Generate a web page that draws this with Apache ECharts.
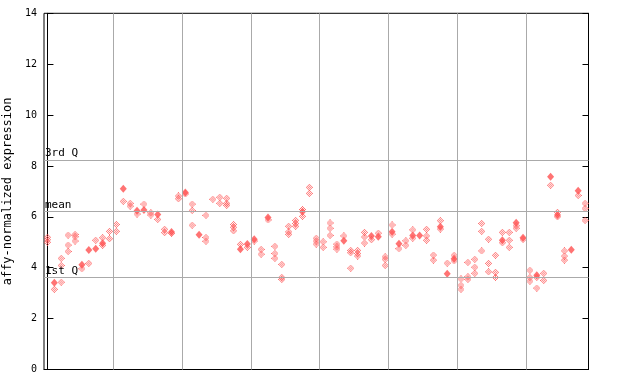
<!DOCTYPE html>
<html>
<head>
<meta charset="utf-8">
<script src="https://cdn.jsdelivr.net/npm/echarts@6/dist/echarts.min.js"></script>
<style>html,body{margin:0;padding:0;background:#fff}#c{width:640px;height:384px}</style>
</head>
<body>
<div id="c"></div>
<script>
// ---- data ----
const groupSizes = [10, 10, 10, 10, 10, 10, 10, 9];
const yTicks = [0, 2, 4, 6, 8, 10, 12, 14];
const yTitle = 'affy-normalized expression';
const statNames = ['3rd Q', 'mean', '1st Q'];
const statValues = [8.23, 6.22, 3.62];
// per sample column: hollow (dithered) diamonds
const hollowValues = [
  [5.2, 5.1, 5.0], [3.15], [4.37, 4.09, 3.43], [5.28, 4.89, 4.64], [5.31, 5.22, 5.05],
  [3.96], [4.17], [5.08], [5.18, 4.88], [5.43, 5.14],
  [5.7, 5.43], [6.61], [6.53, 6.42], [6.11], [6.5],
  [6.16, 6.07], [5.9], [5.51, 5.38], [5.35], [6.82, 6.71],
  [6.9], [6.5, 6.25, 5.67], [], [6.06, 5.19, 5.04], [6.69],
  [6.77, 6.53], [6.73, 6.53, 6.45], [5.7, 5.59, 5.45], [4.92], [4.8],
  [5.05], [4.72, 4.53], [5.88], [4.84, 4.56, 4.37], [4.13, 3.62, 3.54],
  [5.63, 5.41, 5.31], [5.86, 5.74, 5.63], [6.29, 6.02], [7.16, 6.92], [5.16, 5.05, 4.93],
  [5.02, 4.8], [5.76, 5.55, 5.27], [4.93, 4.82, 4.73], [5.25], [4.68, 4.59, 3.98],
  [4.68, 4.56, 4.46], [5.39, 5.21, 4.97], [5.1], [5.36], [4.43, 4.33, 4.09],
  [5.68, 5.32], [4.75], [5.06, 4.88], [5.49, 5.16], [],
  [5.51, 5.25, 5.08], [4.5, 4.3], [5.85, 5.52], [4.18], [4.49, 4.27],
  [3.56, 3.31, 3.15], [4.21, 3.65, 3.54], [4.33, 4.02, 3.78], [5.74, 5.43, 4.66], [5.12, 4.17, 3.84],
  [4.49, 3.82, 3.62], [5.39, 4.98], [5.39, 5.08, 4.8], [5.65, 5.55], [5.11],
  [3.9, 3.62, 3.47], [3.62, 3.2], [3.78, 3.5], [7.24], [6.18, 6.0],
  [4.66, 4.46, 4.3], [], [6.84], [6.53, 6.33, 5.86]
];
// per sample column: solid diamonds
const solidValues = [
  [], [3.41], [], [], [],
  [4.12], [4.7], [4.75], [4.96], [],
  [], [7.1], [], [6.24], [6.27],
  [], [6.09], [], [5.4], [],
  [6.96], [], [5.3], [], [],
  [], [], [], [4.73], [4.93],
  [5.12], [], [5.97], [], [],
  [], [], [6.2], [], [],
  [], [], [], [5.06], [],
  [], [], [5.25], [5.22], [],
  [5.41], [4.94], [], [5.27], [5.27],
  [], [], [5.61], [3.76], [4.35],
  [], [], [], [], [],
  [], [5.08], [], [5.77], [5.18],
  [], [3.7], [], [7.58], [6.07],
  [], [4.71], [7.03], []
];

// ---- build ----
const nCols = groupSizes.reduce((a, b) => a + b, 0);
const boundaries = [];
let acc = 0;
for (let i = 0; i < groupSizes.length - 1; i++) { acc += groupSizes[i]; boundaries.push(acc - 0.5); }

function toPoints(arr) {
  const out = [];
  arr.forEach((vals, i) => vals.forEach(v => out.push([i, v])));
  return out;
}

// dithered diamond symbol
function checkerDiamond() {
  const c = document.createElement('canvas');
  c.width = 7; c.height = 7;
  const g = c.getContext('2d');
  g.fillStyle = '#ff5050';
  for (let y = 0; y < 7; y++) for (let x = 0; x < 7; x++) {
    if (Math.abs(x - 3) + Math.abs(y - 3) <= 3 && (x + y) % 2 === 1) g.fillRect(x, y, 1, 1);
  }
  return 'image://' + c.toDataURL();
}

const mono = 'DejaVu Sans Mono';
const chart = echarts.init(document.getElementById('c'), null, { renderer: 'canvas' });
chart.setOption({
  animation: false,
  backgroundColor: '#fff',
  grid: { left: 44, right: 51.5, top: 13.3, bottom: 14.5, show: true, borderColor: '#000', borderWidth: 1,
    containLabel: false, outerBoundsMode: 'none' },
  xAxis: {
    type: 'value', min: -0.5, max: nCols - 0.5,
    axisLine: { show: true, lineStyle: { color: '#000' } },
    axisTick: { show: false }, axisLabel: { show: false }, splitLine: { show: false }
  },
  yAxis: [{
    type: 'value', min: 0, max: 14, interval: 2,
    name: yTitle, nameLocation: 'middle', nameGap: 28, nameRotate: 90,
    nameTextStyle: { fontFamily: mono, fontSize: 12, color: '#000' },
    axisLine: { show: true, lineStyle: { color: '#000' } },
    axisTick: { show: true, inside: true, length: 6, lineStyle: { color: '#000' } },
    axisLabel: { fontFamily: mono, fontSize: 10, color: '#000', margin: 7,
      formatter: v => yTicks.includes(v) ? String(v) : '' },
    splitLine: { show: false }
  }, {
    type: 'value', min: 0, max: 14, interval: 2, position: 'right',
    axisLine: { show: true, lineStyle: { color: '#000' } },
    axisTick: { show: true, inside: true, length: 6, lineStyle: { color: '#000' } },
    axisLabel: { show: false }, splitLine: { show: false }
  }],
  series: [{
    type: 'scatter', name: 'lines', data: [], silent: true,
    markLine: {
      silent: true, symbol: 'none', animation: false,
      lineStyle: { color: '#aaa', width: 1, type: 'solid' },
      data: boundaries.map(b => ({ xAxis: b, label: { show: false } })).concat(
        statValues.map((v, i) => ({
          yAxis: v,
          label: { show: true, position: 'insideStartTop', formatter: statNames[i], distance: [1, 1],
            fontFamily: mono, fontSize: 11, color: '#000' }
        })))
    }
  }, {
    type: 'scatter', name: 'hollow', data: toPoints(hollowValues),
    symbol: checkerDiamond(), symbolSize: 7, z: 3
  }, {
    type: 'scatter', name: 'solid', data: toPoints(solidValues),
    symbol: 'diamond', symbolSize: [7, 8], z: 4,
    itemStyle: { color: '#ff5050' }
  }]
});
</script>
</body>
</html>
